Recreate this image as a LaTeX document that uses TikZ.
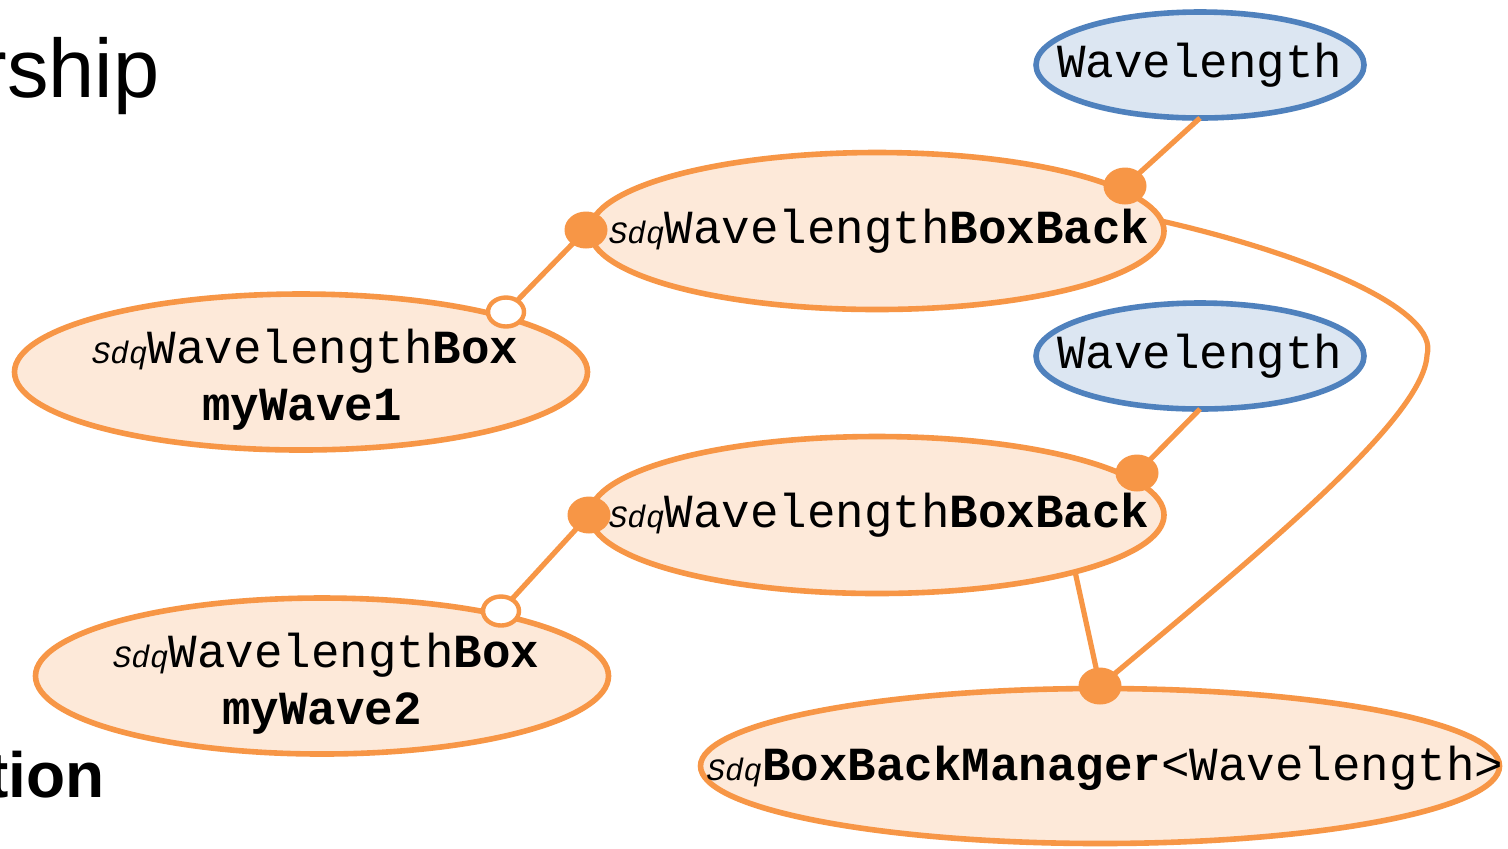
\documentclass[tikz,border=0pt]{standalone}
\usepackage{fontspec}
\setmainfont{Liberation Sans}
\newfontfamily\cour{Liberation Mono}
\usetikzlibrary{shapes.geometric}
\definecolor{org}{HTML}{F79646}
\definecolor{orgfill}{HTML}{FDE9D9}
\definecolor{blu}{HTML}{4F81BD}
\definecolor{blufill}{HTML}{DCE6F2}
\newcommand{\sdqtxt}{{\fontsize{15.5}{18}\selectfont\itshape Sdq}}
\begin{document}
\begin{tikzpicture}[x=0.5pt,y=-0.5pt,
 ell/.style={ellipse, line width=2.8pt, outer sep=0pt, inner sep=0pt},
 classell/.style={ell, draw=org, fill=orgfill},
 typeell/.style={ell, draw=blu, fill=blufill, minimum width=164pt, minimum height=53pt},
 bbell/.style={classell, minimum width=287pt, minimum height=78.5pt},
 boxell/.style={classell, minimum width=286.5pt, minimum height=78pt},
 mgrell/.style={classell, minimum width=399.5pt, minimum height=77.5pt},
 code/.style={inner sep=0pt, anchor=base, font=\cour\fontsize{23.75}{28.5}\selectfont},
 conn/.style={draw=org, line width=2.6pt},
 fdot/.style={ellipse, fill=org, minimum width=21.5pt, minimum height=18.5pt, inner sep=0pt},
 odot/.style={ellipse, draw=org, fill=white, line width=2.2pt, minimum width=18pt, minimum height=14.5pt, inner sep=0pt},
 slide/.style={inner sep=0pt, anchor=base east}
]
\useasboundingbox (0,0) rectangle (1508,848);
\clip (0,0) rectangle (1508,848);
\fill[white] (0,0) rectangle (1508,848);

% slide title fragments
\node[slide, font=\fontsize{41.5}{48}\selectfont] (t1) at (160,97) {rship};
\node[slide, font=\fontsize{32}{38}\selectfont\bfseries] (t2) at (105,797) {tion};

% ellipses
\node[typeell] (wl1) at (1200,65) {};
\node[typeell] (wl2) at (1200,356) {};
\node[bbell] (bb1) at (877,231) {};
\node[bbell] (bb2) at (877,515) {};
\node[boxell] (bx1) at (301,372) {};
\node[boxell] (bx2) at (322,676) {};
\node[mgrell] (mgr) at (1100,766) {};

% texts
\node[code] (wl1t) at (1200,77) {Wavelength};
\node[code] (wl2t) at (1200,368) {Wavelength};
\node[code] (bb1t) at (879,243) {\sdqtxt Wavelength\textbf{BoxBack}};
\node[code] (bb2t) at (879,527) {\sdqtxt Wavelength\textbf{BoxBack}};
\node[code] (bx1a) at (305,363) {\sdqtxt Wavelength\textbf{Box}};
\node[code] (bx1b) at (302,420) {\textbf{myWave1}};
\node[code] (bx2a) at (326,667) {\sdqtxt Wavelength\textbf{Box}};
\node[code] (bx2b) at (322,724) {\textbf{myWave2}};
\node[code] (mgrt) at (1105,780) {\sdqtxt\textbf{BoxBackManager}<Wavelength>};

% dot positions
\coordinate (p1) at (1125,186);
\coordinate (p2) at (586,230);
\coordinate (q1) at (506,312);
\coordinate (p3) at (1137,473);
\coordinate (p4) at (589,515);
\coordinate (q2) at (501,611);
\coordinate (p5) at (1100,686);
\coordinate (bend) at (1427,355);

% connectors
\draw[conn] (wl1.south) -- (p1);
\draw[conn] (p2) -- (q1);
\draw[conn] (wl2.south) -- (p3);
\draw[conn] (p4) -- (q2);
\draw[conn] (bb2.-16) -- (p5);
\draw[conn] (bb1.2) .. controls (1310,255) and (1440,310) .. (bend)
  .. controls (1424,420) and (1250,560) .. (p5);

% connection ends
\node[fdot] (d1) at (p1) {};
\node[fdot] (d2) at (p2) {};
\node[odot] (o1) at (q1) {};
\node[fdot] (d3) at (p3) {};
\node[fdot] (d4) at (p4) {};
\node[odot] (o2) at (q2) {};
\node[fdot] (d5) at (p5) {};
\end{tikzpicture}
\end{document}
